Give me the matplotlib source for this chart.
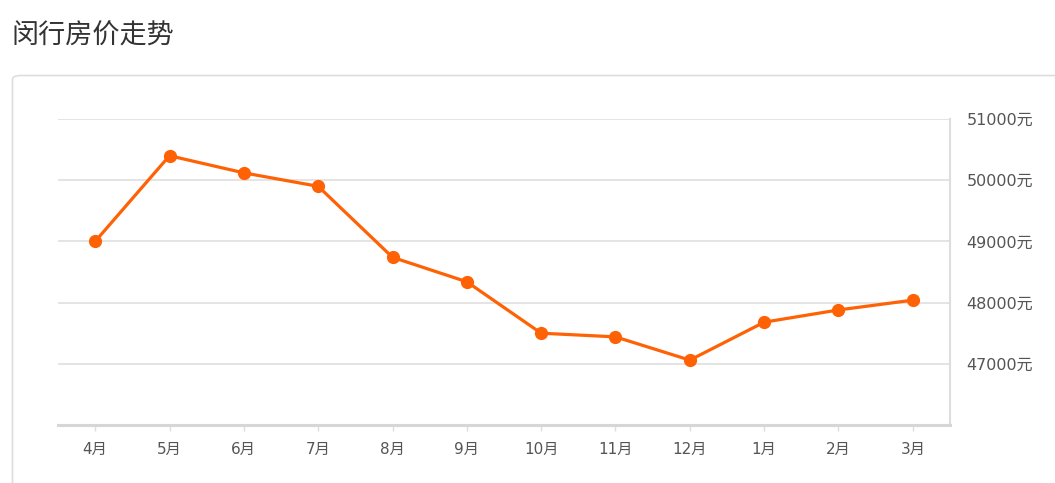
import matplotlib.pyplot as plt
from matplotlib.patches import FancyBboxPatch

plt.rcParams['font.family'] = ['Noto Sans CJK SC', 'DejaVu Sans']

# 数据
months = ['4月', '5月', '6月', '7月', '8月', '9月', '10月', '11月', '12月', '1月', '2月', '3月']
prices = [49000, 50400, 50120, 49900, 48740, 48340, 47500, 47440, 47060, 47680, 47880, 48040]
yticks = [47000, 48000, 49000, 50000, 51000]

W, H = 1055, 483
fig = plt.figure(figsize=(W / 100, H / 100), dpi=100)

# 标题
fig.text(11 / W, 1 - 36 / H, '闵行房价走势', fontsize=19.5, color='#333333',
         ha='left', va='center')

# 外框（圆角，超出画面右侧和底部）
box = FancyBboxPatch((12.5 / W, -0.1), 1.2, 1 - 75.5 / H + 0.1,
                     boxstyle='round,pad=0,rounding_size=0.008',
                     transform=fig.transFigure, facecolor='none',
                     edgecolor='#dddddd', linewidth=1.2, zorder=-1)
fig.patches.append(box)

ax = fig.add_axes([58 / W, 1 - 425 / H, (950 - 58) / W, (425 - 119) / H])
ax.patch.set_alpha(0)
ax.set_zorder(2)

x = range(len(months))
ax.plot(x, prices, color='#ff6105', linewidth=2.3, marker='o', markersize=8.5,
        zorder=3, clip_on=False)

ax.set_xlim(-0.5, len(months) - 0.5)
ax.set_ylim(46000, 51000)
ax.set_xticks(list(x))
ax.set_xticklabels(months)
ax.set_yticks(yticks)
ax.set_yticklabels(['%d元' % v for v in yticks])

ax.yaxis.tick_right()
ax.grid(axis='y', color='#dddddd', linewidth=1.1)
ax.set_axisbelow(True)

for s in ['top', 'left']:
    ax.spines[s].set_visible(False)
ax.spines['right'].set_color('#dddddd')
ax.spines['right'].set_linewidth(1.5)
ax.spines['bottom'].set_color('#d6d6d6')
ax.spines['bottom'].set_linewidth(2.2)

# 数字用较宽的字体，汉字回退到 Noto
lab_font = ['DejaVu Sans', 'Noto Sans CJK SC']
for t in ax.get_xticklabels() + ax.get_yticklabels():
    t.set_family(lab_font)

ax.tick_params(axis='x', length=4, width=1, color='#dddddd', pad=8,
               labelsize=11, labelcolor='#555555')
ax.tick_params(axis='y', length=0, pad=12, labelsize=11.5, labelcolor='#555555')

fig.savefig('out.png', dpi=100)
